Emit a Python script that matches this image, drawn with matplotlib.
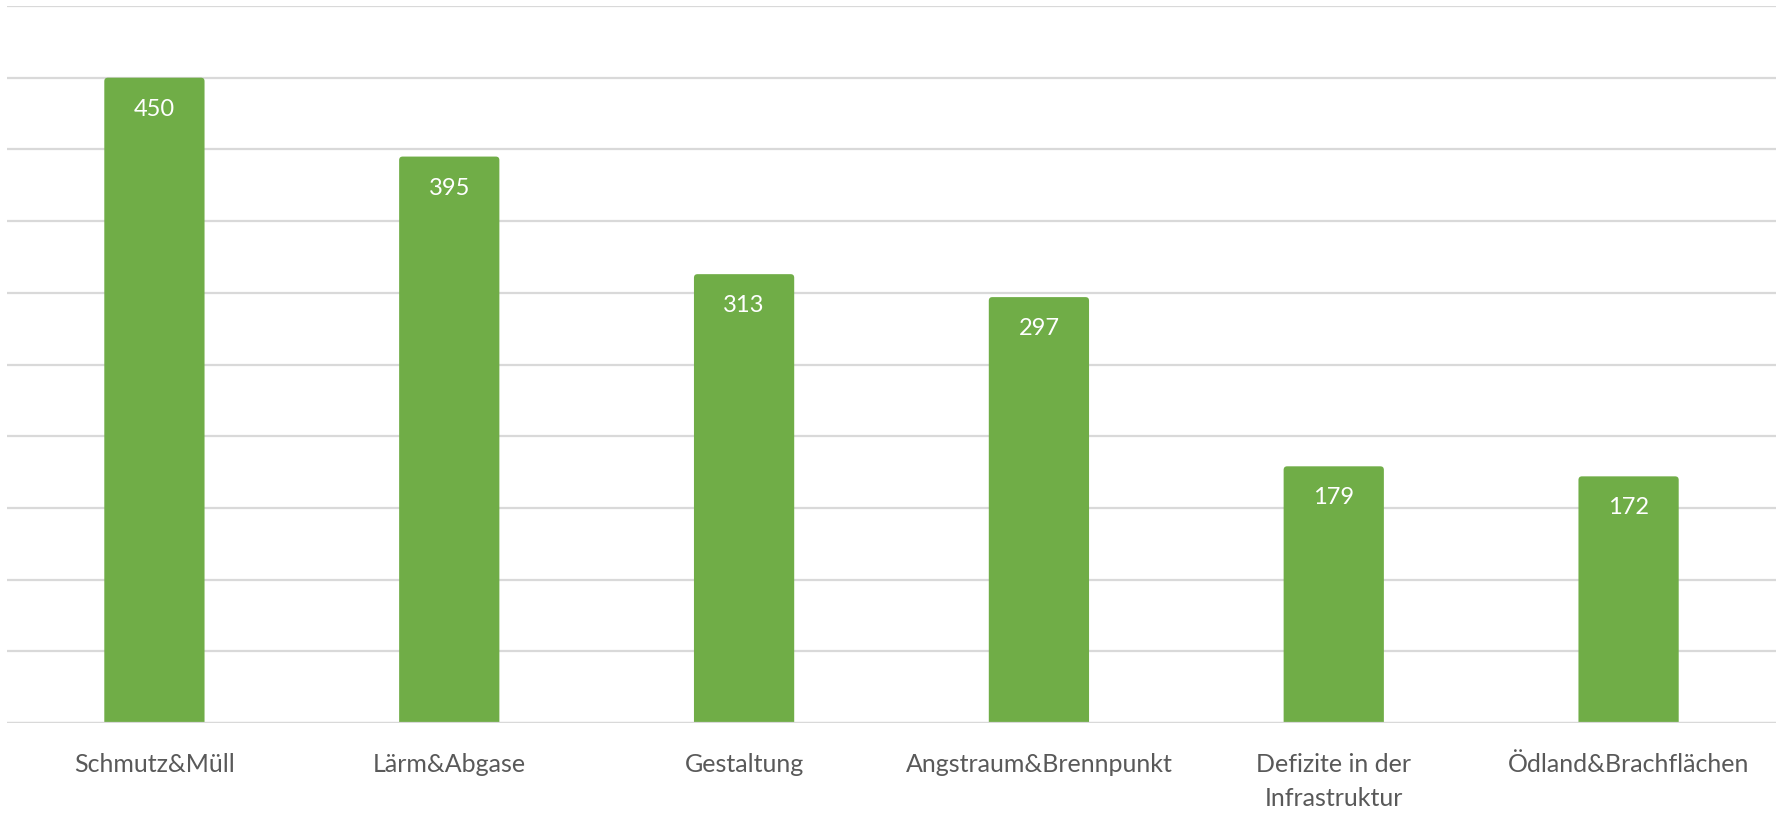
import matplotlib.pyplot as plt
from matplotlib.patches import FancyBboxPatch
import numpy as np

categories = [
    "Schmutz&Müll",
    "Lärm&Abgase",
    "Gestaltung",
    "Angstraum&Brennpunkt",
    "Defizite in der\nInfrastruktur",
    "Ödland&Brachflächen",
]
counts = [450, 395, 313, 297, 179, 172]

bar_color = "#70AD47"
grid_color = "#D9D9D9"
text_color = "#595959"

plt.rcParams["font.family"] = ["Lato", "DejaVu Sans"]

fig = plt.figure(figsize=(17.83, 8.15), dpi=100)
ax = fig.add_axes([7 / 1783, 92 / 815, 1769 / 1783, 717 / 815])

ax.set_xlim(-0.5, len(categories) - 0.5)
ax.set_ylim(0, 500)

x = np.arange(len(categories))
bars = ax.bar(x, counts, width=0.34, color=bar_color, zorder=2)

# swap the plain rectangles for ones with slightly rounded top corners
aspect = (500 / 717) / (len(categories) / 1769)
for rect in bars:
    rect.set_visible(False)
    bx, bw, bh = rect.get_x(), rect.get_width(), rect.get_height()
    ax.add_patch(FancyBboxPatch((bx, -10), bw, bh + 10,
                                boxstyle="round,pad=0,rounding_size=0.012",
                                mutation_aspect=aspect, facecolor=bar_color,
                                edgecolor="none", zorder=2))

# value labels inside the top of each bar
for rect, val in zip(bars, counts):
    ax.text(rect.get_x() + rect.get_width() / 2, val - 22, str(val),
            ha="center", va="center", color="white", fontsize=17, zorder=3)

ax.set_yticks(np.arange(0, 501, 50))
ax.yaxis.grid(True, color=grid_color, linewidth=1.6, zorder=1)
ax.set_axisbelow(True)
ax.tick_params(axis="y", left=False, labelleft=False)
ax.tick_params(axis="x", bottom=False, pad=18)
ax.set_xticks(x)
ax.set_xticklabels(categories, fontsize=18, color=text_color, linespacing=1.6,
                   va="top")
for s in ax.spines.values():
    s.set_visible(False)
ax.axhline(0, color=grid_color, linewidth=1.6, zorder=3)

fig.savefig("out.png", dpi=100)
